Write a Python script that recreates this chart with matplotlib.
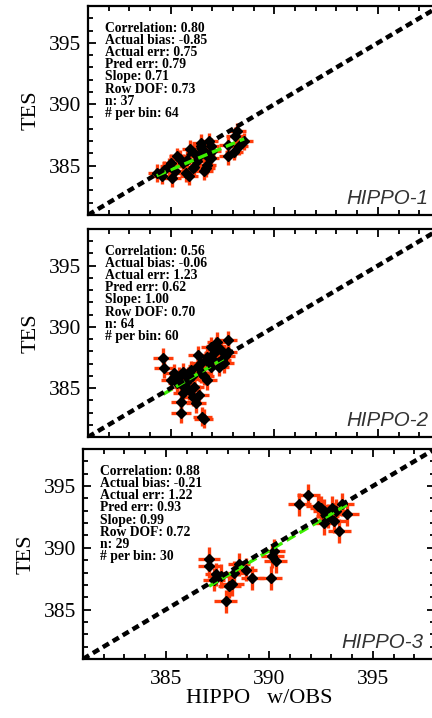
import matplotlib
matplotlib.use('Agg')
import matplotlib.pyplot as plt
from matplotlib.ticker import MultipleLocator
import numpy as np

# panel names and stats text
panels = ['HIPPO-1', 'HIPPO-2', 'HIPPO-3']
correlation = [0.80, 0.56, 0.88]
actual_bias = [-0.85, -0.06, -0.21]
actual_err = [0.75, 1.23, 1.22]
pred_err = [0.79, 0.62, 0.93]
slope = [0.71, 1.00, 0.99]
row_dof = [0.73, 0.70, 0.72]
n_points = [37, 64, 29]
per_bin = [64, 60, 30]

# HIPPO-1
h1_x = [384.32, 385.00, 385.08, 384.68, 385.32, 385.72, 385.88, 386.05, 386.13,
        385.80, 386.45, 386.37, 386.45, 386.85, 386.93, 386.69, 386.61, 386.93,
        386.77, 386.13, 385.57, 387.74, 387.74, 388.22, 388.30, 388.54, 388.06,
        385.20, 384.90, 386.25, 385.45, 386.55, 387.00, 385.95, 384.55, 386.70,
        388.10]
h1_y = [384.41, 385.20, 384.00, 384.67, 385.76, 384.41, 384.13, 384.81, 386.03,
        385.49, 386.57, 385.76, 386.85, 386.98, 386.57, 384.81, 384.54, 385.63,
        385.08, 384.94, 385.22, 386.71, 385.76, 387.79, 386.57, 386.98, 386.16,
        384.60, 384.95, 385.40, 385.55, 386.30, 386.20, 386.35, 384.20, 385.90,
        387.40]
# HIPPO-2
h2_x = [384.63, 384.68, 385.00, 385.16, 385.48, 385.48, 385.57, 385.64, 385.81,
        385.97, 386.21, 386.37, 386.13, 386.53, 386.58, 386.77, 386.29, 386.45,
        386.77, 386.93, 387.25, 387.09, 387.42, 387.74, 387.74, 387.57, 387.33,
        385.32, 385.72, 385.88, 386.05, 386.45, 386.93, 386.69, 385.40, 385.60,
        386.00, 386.30, 387.00, 387.60, 387.20, 385.90, 386.60, 387.45]
h2_y = [387.47, 386.61, 385.65, 386.20, 382.93, 383.88, 384.57, 385.11, 385.92,
        386.47, 383.75, 384.43, 385.11, 382.66, 382.50, 385.65, 387.69, 387.01,
        387.56, 388.37, 388.78, 387.83, 388.10, 388.92, 387.97, 387.01, 386.74,
        385.38, 385.50, 384.84, 384.29, 386.20, 386.74, 387.28, 385.90, 386.30,
        386.00, 386.80, 387.40, 387.60, 388.40, 385.70, 386.00, 387.30]
# HIPPO-3
h3_x = [387.09, 387.09, 387.42, 387.33, 387.66, 387.90, 388.06, 388.22, 388.30,
        388.54, 388.86, 389.18, 390.07, 390.15, 390.23, 390.31, 391.44, 391.89,
        392.49, 392.65, 392.65, 392.81, 393.13, 393.37, 393.21, 393.53, 393.77,
        393.05, 392.33]
h3_y = [389.10, 388.51, 387.84, 387.43, 387.70, 385.67, 386.89, 387.03, 387.97,
        388.65, 388.24, 387.56, 387.56, 389.32, 389.73, 388.92, 393.52, 394.25,
        393.24, 392.97, 392.02, 392.57, 392.16, 391.35, 392.97, 393.52, 392.70,
        393.24, 393.38]

xs = [h1_x, h2_x, h3_x]
ys = [h1_y, h2_y, h3_y]
x_err = [0.42, 0.48, 0.55]
y_err = [0.72, 0.78, 0.95]

plt.rcParams['font.family'] = ['Liberation Serif', 'DejaVu Serif']

fig = plt.figure(figsize=(4.32, 7.18), dpi=100)
rects = [[0.2037, 0.7006, 0.8148, 0.2911],
         [0.2037, 0.3914, 0.8148, 0.2897],
         [0.1921, 0.0822, 0.8148, 0.2925]]

red = '#ff3c0a'
green = '#3cf000'

for i, rect in enumerate(rects):
    ax = fig.add_axes(rect)
    x = np.array(xs[i])
    y = np.array(ys[i])
    ax.errorbar(x, y, xerr=x_err[i], yerr=y_err[i], fmt='none',
                ecolor=red, elinewidth=2.4, capsize=0, zorder=2)
    ax.plot(x, y, 'D', color='black', markersize=5.2, zorder=3)

    # fit line through the mean with the stated slope
    fx = np.array([x.min(), x.max()])
    fy = y.mean() + slope[i] * (fx - x.mean())
    ax.plot(fx, fy, color=green, lw=2.4, dashes=(3, 1.5), zorder=4)

    ax.plot([381, 398], [381, 398], color='black', lw=3.2,
            dashes=(1.6, 1.0), zorder=5)

    ax.set_xlim(381, 398)
    ax.set_ylim(381, 398)
    ax.set_yticks([385, 390, 395])
    ax.set_xticks([385, 390, 395])
    ax.xaxis.set_minor_locator(MultipleLocator(1))
    ax.yaxis.set_minor_locator(MultipleLocator(1))
    ax.tick_params(which='both', direction='in', top=True, right=True,
                   width=1.3, labelsize=15.5)
    ax.tick_params(which='major', length=6)
    ax.tick_params(which='minor', length=3.5)
    ax.tick_params(axis='y', pad=5)
    ax.tick_params(axis='x', pad=8)
    if i < 2:
        ax.tick_params(axis='x', labelbottom=False)
    for s in ax.spines.values():
        s.set_linewidth(1.6)
    ax.set_ylabel('TES', fontsize=16, labelpad=6)

    txt = ('Correlation: %.2f\nActual bias: %.2f\nActual err: %.2f\n'
           'Pred err: %.2f\nSlope: %.2f\nRow DOF: %.2f\nn: %d\n# per bin: %d'
           % (correlation[i], actual_bias[i], actual_err[i], pred_err[i],
              slope[i], row_dof[i], n_points[i], per_bin[i]))
    ax.text(0.048, 0.925, txt, transform=ax.transAxes, fontsize=9.8,
            fontweight='bold', va='top', ha='left', linespacing=0.92)
    ax.text(0.966, 0.035, panels[i], transform=ax.transAxes, fontsize=14.8,
            style='italic', color='#333333', ha='right', va='bottom',
            family=['Liberation Sans', 'DejaVu Sans'])

    if i == 2:
        ax.set_xlabel('HIPPO   w/OBS', fontsize=16, labelpad=0)

fig.savefig('out.png', dpi=100)
